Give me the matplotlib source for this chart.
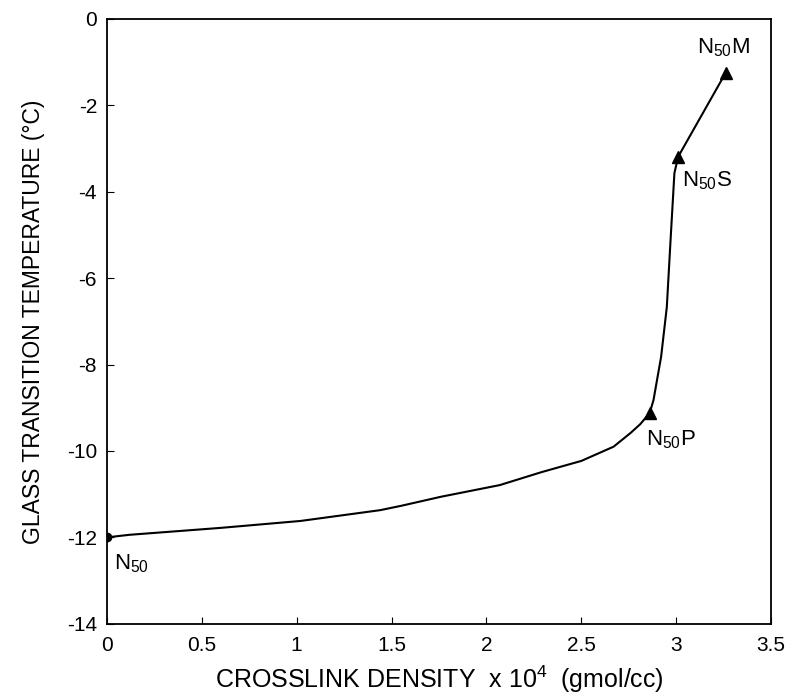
import numpy as np
import matplotlib
matplotlib.use("Agg")
import matplotlib.pyplot as plt

plt.rcParams['font.family'] = ['Liberation Sans', 'DejaVu Sans']
plt.rcParams['mathtext.fontset'] = 'custom'
plt.rcParams['mathtext.rm'] = 'Liberation Sans'
plt.rcParams['mathtext.it'] = 'Liberation Sans'
plt.rcParams['axes.unicode_minus'] = False

# curve
curve_x = [0.0, 0.12, 0.6, 1.02, 1.44, 1.55, 1.76, 2.07, 2.29, 2.50, 2.67, 2.76, 2.81, 2.86,
           2.88, 2.92, 2.95, 2.97, 2.99, 3.01, 3.26]
curve_y = [-12.0, -11.94, -11.78, -11.62, -11.37, -11.27, -11.06, -10.79, -10.49, -10.23,
           -9.9, -9.58, -9.38, -9.12, -8.82, -7.82, -6.67, -5.1, -3.57, -3.19, -1.25]

# named samples
names = ["N$_{50}$", "N$_{50}$P", "N$_{50}$S", "N$_{50}$M"]
pts_x = [0.0, 2.86, 3.01, 3.26]
pts_y = [-12.0, -9.12, -3.19, -1.25]

fig = plt.figure(figsize=(7.91, 6.97), dpi=100, facecolor='w')
ax = fig.add_axes([0.135, 0.105, 0.84, 0.868])

ax.plot(curve_x, curve_y, color='k', lw=1.5)
ax.plot(pts_x[:1], pts_y[:1], 'o', color='k', ms=6)
ax.plot(pts_x[1:], pts_y[1:], '^', color='k', ms=8)

offsets = [(0.04, -0.62), (-0.02, -0.62), (0.02, -0.55), (-0.15, 0.58)]
for n, x, y, (dx, dy) in zip(names, pts_x, pts_y, offsets):
    ax.text(x + dx, y + dy, n, fontsize=16, ha='left', va='center')

ax.set_xlim(0, 3.5)
ax.set_ylim(-14, 0)
ax.set_xticks(np.arange(0, 3.51, 0.5))
ax.set_xticklabels(['0', '0.5', '1', '1.5', '2', '2.5', '3', '3.5'])
ax.set_yticks(np.arange(-14, 0.1, 2))
ax.tick_params(direction='in', length=5, labelsize=15, top=False, right=False)
ax.tick_params(axis='x', pad=9)
ax.tick_params(axis='y', pad=7)
for s in ax.spines.values():
    s.set_linewidth(1.3)

ax.set_xlabel("CROSSLINK DENSITY  x 10$^{4}$  (gmol/cc)", fontsize=18, labelpad=6)
ax.set_ylabel("GLASS TRANSITION TEMPERATURE (°C)", fontsize=16.5, labelpad=16)

plt.savefig('out.png', dpi=100)
